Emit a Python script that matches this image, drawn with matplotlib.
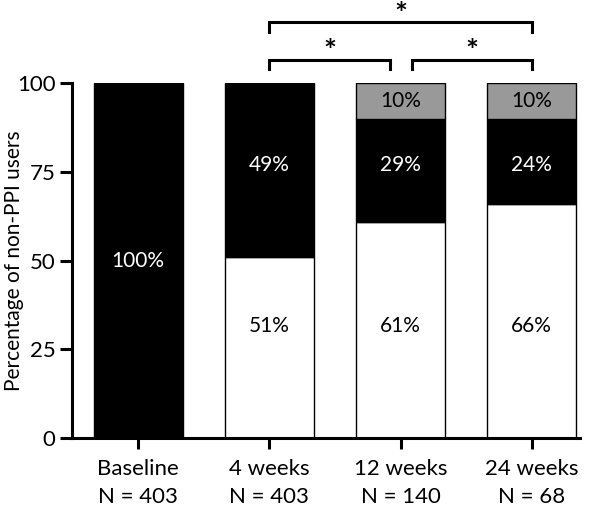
import matplotlib.pyplot as plt
import numpy as np

plt.rcParams['font.family'] = ['Lato', 'DejaVu Sans']

groups = ["Baseline", "4 weeks", "12 weeks", "24 weeks"]
n_values = [403, 403, 140, 68]
white_pct = [0, 51, 61, 66]
black_pct = [100, 49, 29, 24]
grey_pct = [0, 0, 10, 10]

# significance brackets: (from group, to group, level)
brackets = [(1, 3, "top"), (1, 2, "low"), (2, 3, "low")]

fig = plt.figure(figsize=(6.0, 5.07), dpi=100)
ax = fig.add_axes([0.12, 0.136, 0.847, 0.700])

x = np.arange(len(groups))
w = 0.68
white = np.array(white_pct)
black = np.array(black_pct)
grey = np.array(grey_pct)

ax.bar(x, white, w, color="white", edgecolor="black", linewidth=1)
ax.bar(x, black, w, bottom=white, color="black", edgecolor="black", linewidth=1)
ax.bar(x, grey, w, bottom=white + black, color="#999999", edgecolor="black", linewidth=1)

# labels sit at fixed heights in each band (as in the original figure)
for i in range(len(groups)):
    if white[i] > 0:
        ax.text(x[i], 31.5, f"{white[i]}%", ha="center", va="center", fontsize=15, color="black")
    if black[i] > 0:
        yb = 50 if white[i] == 0 else 77
        ax.text(x[i], yb, f"{black[i]}%", ha="center", va="center", fontsize=15, color="white")
    if grey[i] > 0:
        ax.text(x[i], 95, f"{grey[i]}%", ha="center", va="center", fontsize=15, color="black")

# brackets
for a, b, level in brackets:
    xa, xb = x[a], x[b]
    if level == "top":
        y0, y1, ys = 114.4, 117.2, 116.8
    else:
        y0, y1, ys = 104.0, 106.5, 106.2
        if b == 2:
            xb = x[b] - 0.08
        if a == 2:
            xa = x[a] + 0.09
    ax.plot([xa, xa, xb, xb], [y0, y1, y1, y0], color="black", lw=2.2, clip_on=False,
            solid_joinstyle="miter")
    ax.text((xa + xb) / 2, ys, "*", ha="center", va="baseline", fontsize=22,
            fontweight="bold", clip_on=False)

ax.set_xlim(-0.505, 3.37)
ax.set_ylim(0, 100)
ax.set_yticks([0, 25, 50, 75, 100])
ax.set_xticks(x)
ax.set_xticklabels([f"{g}\nN = {n}" for g, n in zip(groups, n_values)], fontsize=16, linespacing=1.5)
ax.tick_params(axis="y", labelsize=16, length=9, width=2.2, pad=3)
ax.tick_params(axis="x", length=8, width=2.2, pad=7)
ax.set_ylabel("Percentage of non-PPI users", fontsize=15)
ax.yaxis.set_label_coords(-0.094, 0.5)

for s in ["top", "right"]:
    ax.spines[s].set_visible(False)
ax.spines["left"].set_linewidth(2.2)
ax.spines["bottom"].set_linewidth(2.2)

fig.savefig("out.png", dpi=100)
